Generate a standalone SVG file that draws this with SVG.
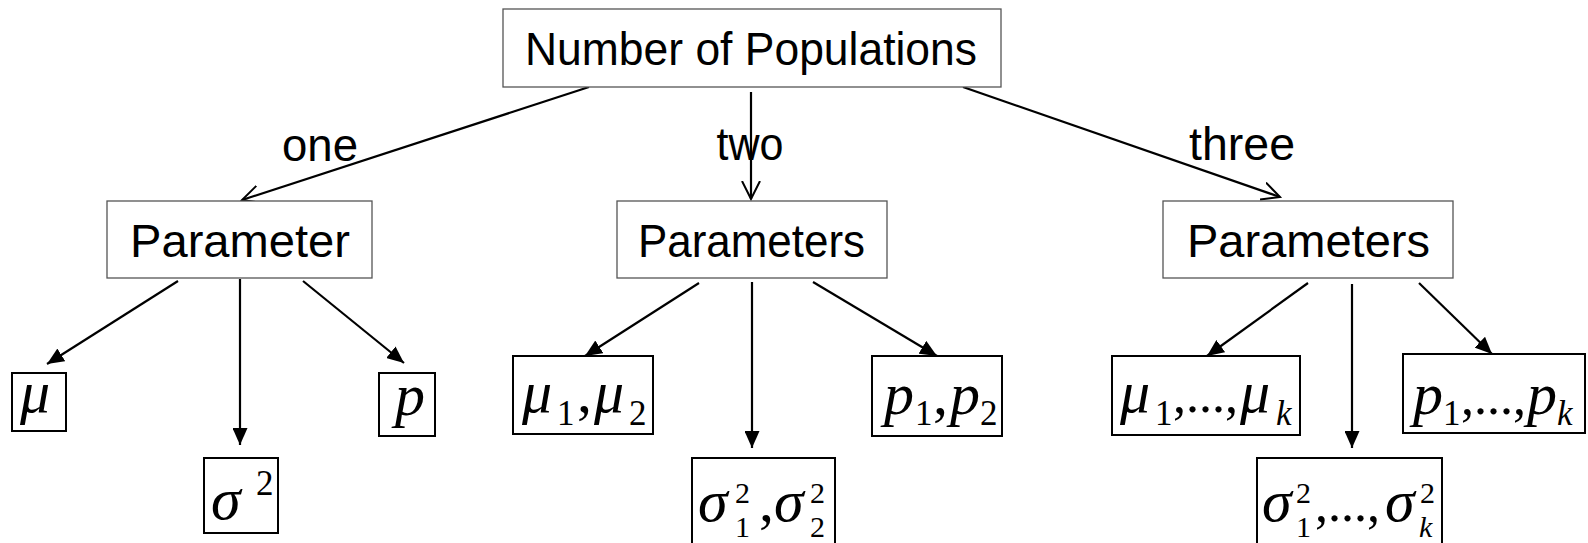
<svg xmlns="http://www.w3.org/2000/svg" width="1588" height="543" viewBox="0 0 1588 543">
<style>
.lbox{fill:#fff;stroke:#555;stroke-width:1.3}
.mbox{fill:#fff;stroke:#000;stroke-width:2}
.lt{font-family:"Liberation Sans",Arial,sans-serif;font-size:46px;fill:#000;text-anchor:middle}
.m{font-family:"Liberation Serif","Times New Roman",serif;font-size:60px;fill:#000}
.i{font-style:italic}
.s{font-size:35px}
.t{font-size:30px}
.e{font-size:52px}
.c{fill:none;stroke:#000;stroke-width:2.2}
</style>
<defs>
<marker id="open" viewBox="0 0 20 20" refX="18" refY="10" markerWidth="20" markerHeight="20" markerUnits="userSpaceOnUse" orient="auto">
<path d="M0,1 L18,10 L0,19" fill="none" stroke="#000" stroke-width="2"/>
</marker>
<marker id="fill" viewBox="0 0 17 15" refX="17" refY="7.5" markerWidth="17" markerHeight="15" markerUnits="userSpaceOnUse" orient="auto">
<path d="M0,0 L17,7.5 L0,15 Z" fill="#000"/>
</marker>
</defs>
<rect width="1588" height="543" fill="#fff"/>
<g id="connectors">
<line class="c" x1="589" y1="87" x2="242" y2="200" marker-end="url(#open)"/>
<line class="c" x1="751" y1="92" x2="751" y2="199" marker-end="url(#open)"/>
<line class="c" x1="963" y1="87" x2="1280" y2="197" marker-end="url(#open)"/>
<line class="c" x1="178" y1="281" x2="47" y2="364" marker-end="url(#fill)"/>
<line class="c" x1="240" y1="279" x2="240" y2="445" marker-end="url(#fill)"/>
<line class="c" x1="303" y1="281" x2="404" y2="363" marker-end="url(#fill)"/>
<line class="c" x1="699" y1="283" x2="585" y2="356" marker-end="url(#fill)"/>
<line class="c" x1="752" y1="282" x2="752" y2="448" marker-end="url(#fill)"/>
<line class="c" x1="813" y1="282" x2="937" y2="356" marker-end="url(#fill)"/>
<line class="c" x1="1308" y1="283" x2="1207" y2="356" marker-end="url(#fill)"/>
<line class="c" x1="1352" y1="284" x2="1352" y2="448" marker-end="url(#fill)"/>
<line class="c" x1="1419" y1="283" x2="1492" y2="354" marker-end="url(#fill)"/>
<text class="lt" x="320" y="161" textLength="76" lengthAdjust="spacingAndGlyphs">one</text>
<text class="lt" x="750" y="160" textLength="67" lengthAdjust="spacingAndGlyphs">two</text>
<text class="lt" x="1242" y="160" textLength="106" lengthAdjust="spacingAndGlyphs">three</text>
</g>
<g id="root">
<rect class="lbox" x="503" y="9" width="498" height="78"/>
<text class="lt" x="751" y="65" textLength="452" lengthAdjust="spacingAndGlyphs">Number of Populations</text>
</g>
<g id="param-one">
<rect class="lbox" x="107" y="201" width="265" height="77"/>
<text class="lt" x="240" y="257" textLength="220" lengthAdjust="spacingAndGlyphs">Parameter</text>
</g>
<g id="param-two">
<rect class="lbox" x="617" y="201" width="270" height="77"/>
<text class="lt" x="751.5" y="257" textLength="227" lengthAdjust="spacingAndGlyphs">Parameters</text>
</g>
<g id="param-three">
<rect class="lbox" x="1163" y="201" width="290" height="77"/>
<text class="lt" x="1308.5" y="257" textLength="243" lengthAdjust="spacingAndGlyphs">Parameters</text>
</g>
<g id="mu">
<rect class="mbox" x="12" y="373" width="54" height="58"/>
<text class="m i" x="20" y="412">μ</text>
</g>
<g id="sigma">
<rect class="mbox" x="204" y="458" width="74" height="75"/>
<text class="m"><tspan class="i" x="211" y="519">σ</tspan><tspan class="s" x="256" y="495">2</tspan></text>
</g>
<g id="p">
<rect class="mbox" x="379" y="373" width="56" height="63"/>
<text class="m i" x="395" y="415">p</text>
</g>
<g id="mu12">
<rect class="mbox" x="513" y="356" width="140" height="78"/>
<text class="m"><tspan class="i" x="522" y="412">μ</tspan><tspan class="s" x="557" y="425">1</tspan><tspan x="577" y="412">,</tspan><tspan class="i" x="594" y="412">μ</tspan><tspan class="s" x="629" y="425">2</tspan></text>
</g>
<g id="sigma12">
<rect class="mbox" x="692" y="458" width="143" height="95"/>
<text class="m"><tspan class="i" x="698" y="521">σ</tspan><tspan class="t" x="735" y="503">2</tspan><tspan class="t" x="735" y="537">1</tspan><tspan x="759" y="521">,</tspan><tspan class="i" x="774" y="521">σ</tspan><tspan class="t" x="810" y="503">2</tspan><tspan class="t" x="810" y="537">2</tspan></text>
</g>
<g id="p12">
<rect class="mbox" x="872" y="356" width="130" height="80"/>
<text class="m"><tspan class="i" x="884" y="414">p</tspan><tspan class="s" x="915" y="425">1</tspan><tspan x="933" y="414">,</tspan><tspan class="i" x="950" y="414">p</tspan><tspan class="s" x="980" y="425">2</tspan></text>
</g>
<g id="mu1k">
<rect class="mbox" x="1112" y="356" width="188" height="79"/>
<text class="m"><tspan class="i" x="1120" y="412">μ</tspan><tspan class="s" x="1155" y="425">1</tspan><tspan class="e" x="1173 1186 1199 1212 1225" y="412">,...,</tspan><tspan class="i" x="1240" y="412">μ</tspan><tspan class="s i" x="1276" y="425">k</tspan></text>
</g>
<g id="sigma1k">
<rect class="mbox" x="1257" y="458" width="185" height="95"/>
<text class="m"><tspan class="i" x="1262" y="521">σ</tspan><tspan class="t" x="1296" y="503">2</tspan><tspan class="t" x="1296" y="537">1</tspan><tspan class="e" x="1315 1328 1341 1354 1367" y="521">,...,</tspan><tspan class="i" x="1385" y="521">σ</tspan><tspan class="t" x="1420" y="503">2</tspan><tspan class="t i" x="1419" y="537">k</tspan></text>
</g>
<g id="p1k">
<rect class="mbox" x="1403" y="354" width="182" height="79"/>
<text class="m"><tspan class="i" x="1413" y="414">p</tspan><tspan class="s" x="1443" y="425">1</tspan><tspan class="e" x="1461 1474 1487 1500 1513" y="414">,...,</tspan><tspan class="i" x="1527" y="414">p</tspan><tspan class="s i" x="1557" y="425">k</tspan></text>
</g>
</svg>
